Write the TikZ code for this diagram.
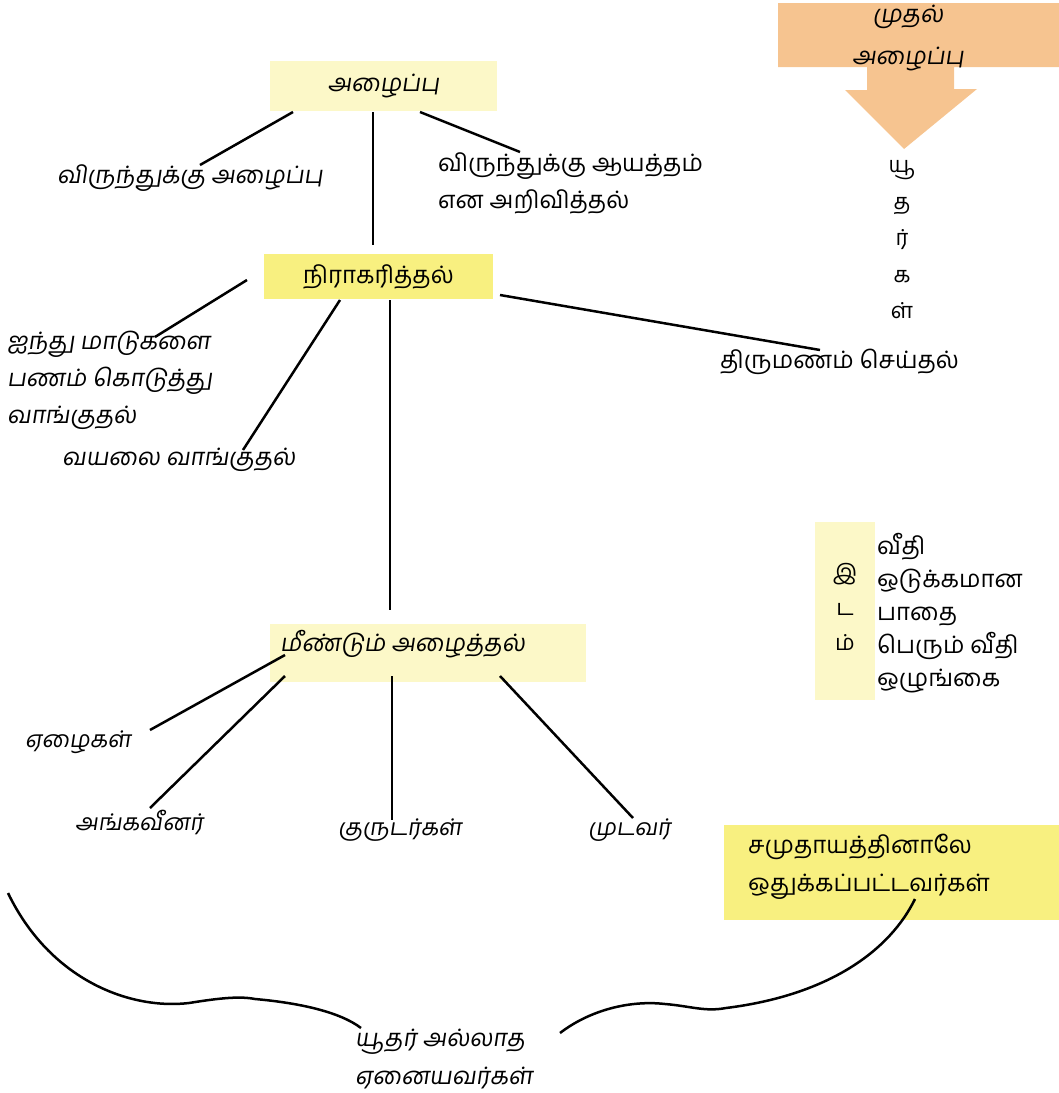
\documentclass[tikz,border=0pt]{standalone}
\usepackage{fontspec}
\newfontfamily\tam[Script=Tamil]{Hind Madurai}
\newfontfamily\tamsl[Script=Tamil,FakeSlant=0.15]{Hind Madurai}
\definecolor{paleyellow}{HTML}{FCF8C8}
\definecolor{strongyellow}{HTML}{F8F080}
\definecolor{callorange}{HTML}{F6C490}
\begin{document}
\begin{tikzpicture}[x=1pt, y=-1pt]
        \tikzstyle{lbl}=[inner sep=0pt, align=left, font=\tam\fontsize{24}{37}\selectfont]
        \tikzstyle{lblsl}=[lbl, font=\tamsl\fontsize{24}{37}\selectfont]
        \tikzstyle{lblcn}=[lbl, font=\tam\fontsize{24}{37}\selectfont]
        \tikzstyle{lblcs}=[lbl, font=\tamsl\fontsize{23}{38}\selectfont]
        \tikzstyle{pale}=[fill=paleyellow, inner sep=0pt]
        \tikzstyle{strong}=[fill=strongyellow, inner sep=0pt]
        \tikzstyle{link}=[draw, line width=2.5pt]

        \useasboundingbox (0,0) rectangle (1059,1093);

        % first call arrow, top right
        \fill[callorange] (778,3) -- (1059,3) -- (1059,67) -- (954,67) -- (954,89)
            -- (977,89) -- (904,149) -- (845,90) -- (867,90) -- (867,67) -- (778,67) -- cycle;
        \node[lblsl, align=center, font=\tamsl\fontsize{24}{42}\selectfont](first) at (908,38){முதல்\\அழைப்பு};
        \node[lbl, align=center, font=\tam\fontsize{22}{36.5}\selectfont](jews) at (902,240){யூ\\த\\ர்\\க\\ள்};

        % main tree
        \node[pale, minimum width=227pt, minimum height=50pt](invite) at (383.5,86){};
        \node[lblsl](invitet) at (383.5,86){அழைப்பு};
        \node[lblsl, anchor=west](feast) at (57,178){விருந்துக்கு அழைப்பு};
        \node[lbl, anchor=west](ready) at (438,183){விருந்துக்கு ஆயத்தம்\\என அறிவித்தல்};

        \node[strong, minimum width=229pt, minimum height=45pt](refuse) at (378.5,276.5){};
        \node[lblcn](refuset) at (378.5,277){நிராகரித்தல்};
        \node[lblsl, anchor=west](oxen) at (7,380){ஐந்து மாடுகளை\\பணம் கொடுத்து\\வாங்குதல்};
        \node[lblsl, anchor=west](field) at (62,460){வயலை வாங்குதல்};
        \node[lblcn, anchor=west](wed) at (720,362){திருமணம் செய்தல்};

        \node[pale, minimum width=316pt, minimum height=58pt](again) at (428,653){};
        \node[lblsl, anchor=west](againt) at (280,644){மீண்டும் அழைத்தல்};
        \node[lblcs, anchor=west](poor) at (25,742){ஏழைகள்};
        \node[lblcs, anchor=west](maimed) at (75,822){அங்கவீனர்};
        \node[lblcs, anchor=west](blind) at (338,830){குருடர்கள்};
        \node[lblcs, anchor=west](lame) at (588,830){முடவர்};

        % place box
        \node[pale, minimum width=60pt, minimum height=178pt](place) at (845,611){};
        \node[lbl, align=center, font=\tam\fontsize{22}{35}\selectfont](placet) at (845,607){இ\\ட\\ம்};
        \node[lbl, anchor=west, font=\tam\fontsize{24}{33}\selectfont](streets) at (877,613){வீதி\\ஒடுக்கமான\\பாதை\\பெரும் வீதி\\ஒழுங்கை};

        % outcasts
        \node[strong, minimum width=335pt, minimum height=95pt](outcast) at (891.5,872.5){};
        \node[lbl, anchor=west, font=\tam\fontsize{24}{38}\selectfont](outcastt) at (748,867){சமுதாயத்தினாலே\\ஒதுக்கப்பட்டவர்கள்};
        \node[lblcs, anchor=west, font=\tamsl\fontsize{24}{38}\selectfont](gentiles) at (355,1059){யூதர் அல்லாத\\ஏனையவர்கள்};

        % line ends
        \coordinate (i1) at (293,112);
        \coordinate (i2) at (373,112);
        \coordinate (i3) at (420,112);
        \coordinate (f1) at (200,165);
        \coordinate (r1) at (520,152);
        \coordinate (n0) at (373,245);
        \coordinate (n1) at (247,280);
        \coordinate (n2) at (340,300);
        \coordinate (n3) at (390,300);
        \coordinate (n4) at (500,295);
        \coordinate (o1) at (155,337);
        \coordinate (v1) at (243,450);
        \coordinate (w1) at (820,350);
        \coordinate (a0) at (390,610);
        \coordinate (a1) at (285,655);
        \coordinate (a2) at (285,676);
        \coordinate (a3) at (392,676);
        \coordinate (a4) at (500,676);
        \coordinate (p1) at (150,730);
        \coordinate (m1) at (150,808);
        \coordinate (b1) at (392,820);
        \coordinate (l1) at (633,818);
        \coordinate (c0) at (8,893);
        \coordinate (c1) at (361,1028);
        \coordinate (c2) at (560,1033);
        \coordinate (c3) at (915,899);

        \draw[link] (i1) -- (f1);
        \draw[link] (i2) -- (n0);
        \draw[link] (i3) -- (r1);
        \draw[link] (n1) -- (o1);
        \draw[link] (n2) -- (v1);
        \draw[link] (n3) -- (a0);
        \draw[link] (n4) -- (w1);
        \draw[link] (a1) -- (p1);
        \draw[link] (a2) -- (m1);
        \draw[link] (a3) -- (b1);
        \draw[link] (a4) -- (l1);

        % brace round the outcasts
        \draw[link] (c0) .. controls (50,980) and (130,1010) .. (189,1003)
            .. controls (220,998) and (240,996) .. (255,999)
            .. controls (300,1003) and (340,1012) .. (c1);
        \draw[link] (c2) .. controls (590,1010) and (630,1000) .. (665,1004)
            .. controls (690,1006) and (705,1012) .. (726,1008)
            .. controls (830,995) and (890,950) .. (c3);

        \end{tikzpicture}
\end{document}
